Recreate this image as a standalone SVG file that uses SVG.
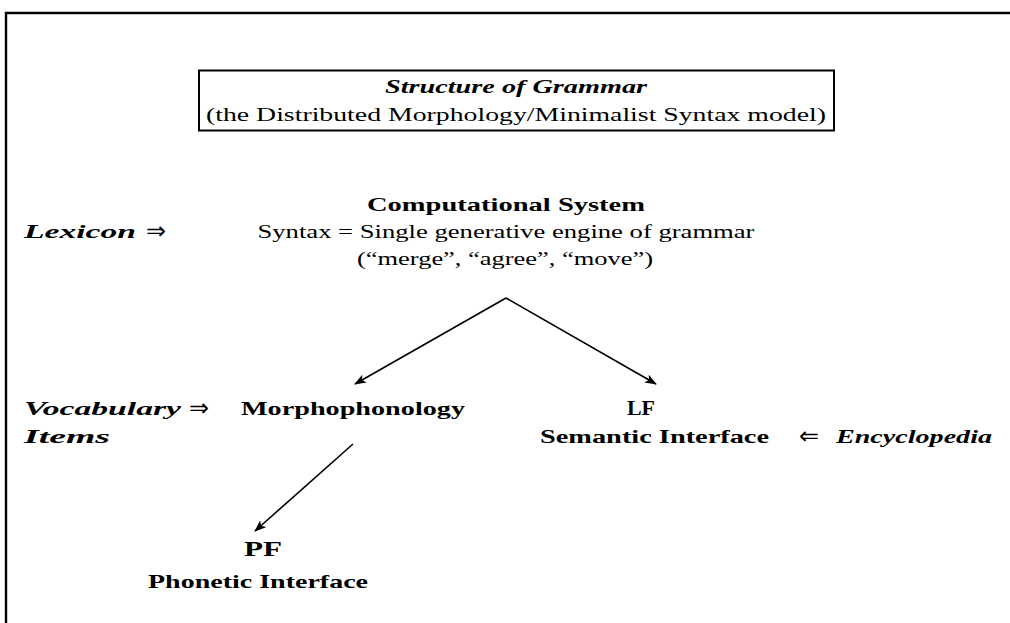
<svg xmlns="http://www.w3.org/2000/svg" width="1010" height="623" viewBox="0 0 1010 623">
  <style>
    text { font-family: "Liberation Serif", "DejaVu Serif", serif; font-size: 19px; fill: #000; }
    .b { font-weight: bold; }
    .bi { font-weight: bold; font-style: italic; }
    .c { text-anchor: middle; }
    .cap { font-size: 20px; }
    .arr { font-family: "DejaVu Sans", sans-serif; font-size: 24px; font-weight: normal; font-style: normal; }
    .edge { stroke: #000; stroke-width: 1.6; fill: none; marker-end: url(#head); }
  </style>
  <defs>
    <marker id="head" viewBox="0 0 12 10" refX="11" refY="5" markerWidth="12" markerHeight="10" markerUnits="userSpaceOnUse" orient="auto">
      <path d="M0,0.5 L12,5 L0,9.5 L3,5 Z" fill="#000"/>
    </marker>
  </defs>

  <rect width="1010" height="623" fill="#fff"/>

  <!-- outer frame: left and top rules only -->
  <path d="M6,623 V13 H1010" stroke="#000" stroke-width="2.4" fill="none"/>

  <g id="title">
    <rect x="199" y="70.5" width="635" height="60" fill="none" stroke="#000" stroke-width="2"/>
    <text class="bi c" x="516" y="93" textLength="262" lengthAdjust="spacingAndGlyphs">Structure of Grammar</text>
    <text class="c" x="516" y="121" textLength="620" lengthAdjust="spacingAndGlyphs">(the Distributed Morphology/Minimalist Syntax model)</text>
  </g>

  <g id="lexicon">
    <text class="bi" x="24" y="238" textLength="112" lengthAdjust="spacingAndGlyphs">Lexicon</text>
    <text class="arr" x="146" y="239" textLength="20" lengthAdjust="spacingAndGlyphs">⇒</text>
  </g>

  <g id="computational-system">
    <text class="b c" x="506" y="211" textLength="278" lengthAdjust="spacingAndGlyphs">Computational System</text>
    <text class="c" x="506" y="238" textLength="497" lengthAdjust="spacingAndGlyphs">Syntax = Single generative engine of grammar</text>
    <text class="c" x="505" y="265" textLength="296" lengthAdjust="spacingAndGlyphs">(“merge”, “agree”, “move”)</text>
  </g>

  <g id="vocabulary-items">
    <text class="bi" x="24" y="415" textLength="157" lengthAdjust="spacingAndGlyphs">Vocabulary</text>
    <text class="arr" x="189" y="416" textLength="20" lengthAdjust="spacingAndGlyphs">⇒</text>
    <text class="bi" x="24" y="443" textLength="86" lengthAdjust="spacingAndGlyphs">Items</text>
  </g>

  <g id="morphophonology">
    <text class="b" x="241" y="415" textLength="224" lengthAdjust="spacingAndGlyphs">Morphophonology</text>
  </g>

  <g id="lf">
    <text class="b c cap" x="641" y="415" textLength="28" lengthAdjust="spacingAndGlyphs">LF</text>
    <text class="b" x="540" y="443" textLength="229" lengthAdjust="spacingAndGlyphs">Semantic Interface</text>
  </g>

  <g id="encyclopedia">
    <text class="arr" x="799" y="444" textLength="20" lengthAdjust="spacingAndGlyphs">⇐</text>
    <text class="bi" x="836" y="443" textLength="156" lengthAdjust="spacingAndGlyphs">Encyclopedia</text>
  </g>

  <g id="pf">
    <text class="b c cap" x="263" y="556" textLength="38" lengthAdjust="spacingAndGlyphs">PF</text>
    <text class="b" x="148" y="588" textLength="220" lengthAdjust="spacingAndGlyphs">Phonetic Interface</text>
  </g>

  <g id="connectors">
    <line class="edge" x1="506" y1="298" x2="355" y2="384"/>
    <line class="edge" x1="506" y1="298" x2="656" y2="384"/>
    <line class="edge" x1="353" y1="444" x2="255" y2="531"/>
  </g>
</svg>
